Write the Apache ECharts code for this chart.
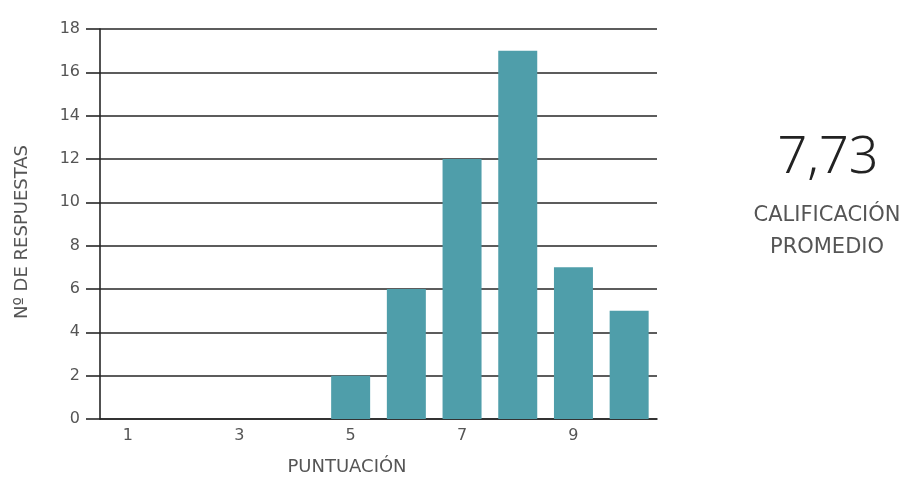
<!DOCTYPE html>
<html>
<head>
<meta charset="utf-8">
<script src="https://cdn.jsdelivr.net/npm/echarts@6/dist/echarts.min.js"></script>
<style>
  html, body { margin: 0; padding: 0; background: #fff; }
  #myChart { width: 918px; height: 477px; }
</style>
</head>
<body>
<div id="myChart"></div>
<script>
// puntuaciones 1..10 y número de respuestas
const categories = ["1", "2", "3", "4", "5", "6", "7", "8", "9", "10"];
const respuestas = [0, 0, 0, 0, 2, 6, 12, 17, 7, 5];
const promedio = "7,73";

let myChart = echarts.init(document.getElementById("myChart"));
const font = "DejaVu Sans";
const lineColor = "#262626";

myChart.setOption({
  animation: false,
  grid: {
    left: 100,
    right: 261,
    top: 29,
    bottom: 58,
  },
  xAxis: {
    type: "category",
    data: categories,
    axisLine: { lineStyle: { color: lineColor, width: 1.6 } },
    axisTick: { show: false },
    axisLabel: {
      interval: 1,
      color: "#555",
      fontSize: 16,
      fontFamily: font,
      margin: 9,
    },
  },
  yAxis: {
    type: "value",
    min: 0,
    max: 18,
    interval: 2,
    axisLine: { show: true, lineStyle: { color: lineColor, width: 1.6 } },
    axisTick: { show: true, length: 14, lineStyle: { color: lineColor, width: 1.6 } },
    splitLine: { lineStyle: { color: lineColor, width: 1.6 } },
    axisLabel: {
      color: "#555",
      fontSize: 16,
      fontFamily: font,
      margin: 20,
    },
  },
  series: [
    {
      type: "bar",
      data: respuestas,
      barWidth: "70%",
      itemStyle: { color: "#4f9eaa" },
    },
  ],
  graphic: [
    {
      type: "text",
      x: 347,
      y: 467,
      style: {
        text: "PUNTUACIÓN",
        fontSize: 18,
        fill: "#555",
        fontFamily: font,
        align: "center",
        verticalAlign: "middle",
      },
    },
    {
      type: "text",
      x: 22,
      y: 232,
      rotation: Math.PI / 2,
      style: {
        text: "Nº DE RESPUESTAS",
        fontSize: 18,
        fill: "#555",
        fontFamily: font,
        align: "center",
        verticalAlign: "middle",
      },
    },
    {
      type: "text",
      x: 828,
      y: 158,
      style: {
        text: promedio,
        fontSize: 52,
        fontWeight: 300,
        fill: "#222",
        fontFamily: "Noto Sans",
        align: "center",
        verticalAlign: "middle",
      },
    },
    {
      type: "text",
      x: 827,
      y: 216,
      style: {
        text: "CALIFICACIÓN",
        fontSize: 21,
        fill: "#555",
        fontFamily: font,
        align: "center",
        verticalAlign: "middle",
      },
    },
    {
      type: "text",
      x: 827,
      y: 248,
      style: {
        text: "PROMEDIO",
        fontSize: 21,
        fill: "#555",
        fontFamily: font,
        align: "center",
        verticalAlign: "middle",
      },
    },
  ],
});
</script>
</body>
</html>
